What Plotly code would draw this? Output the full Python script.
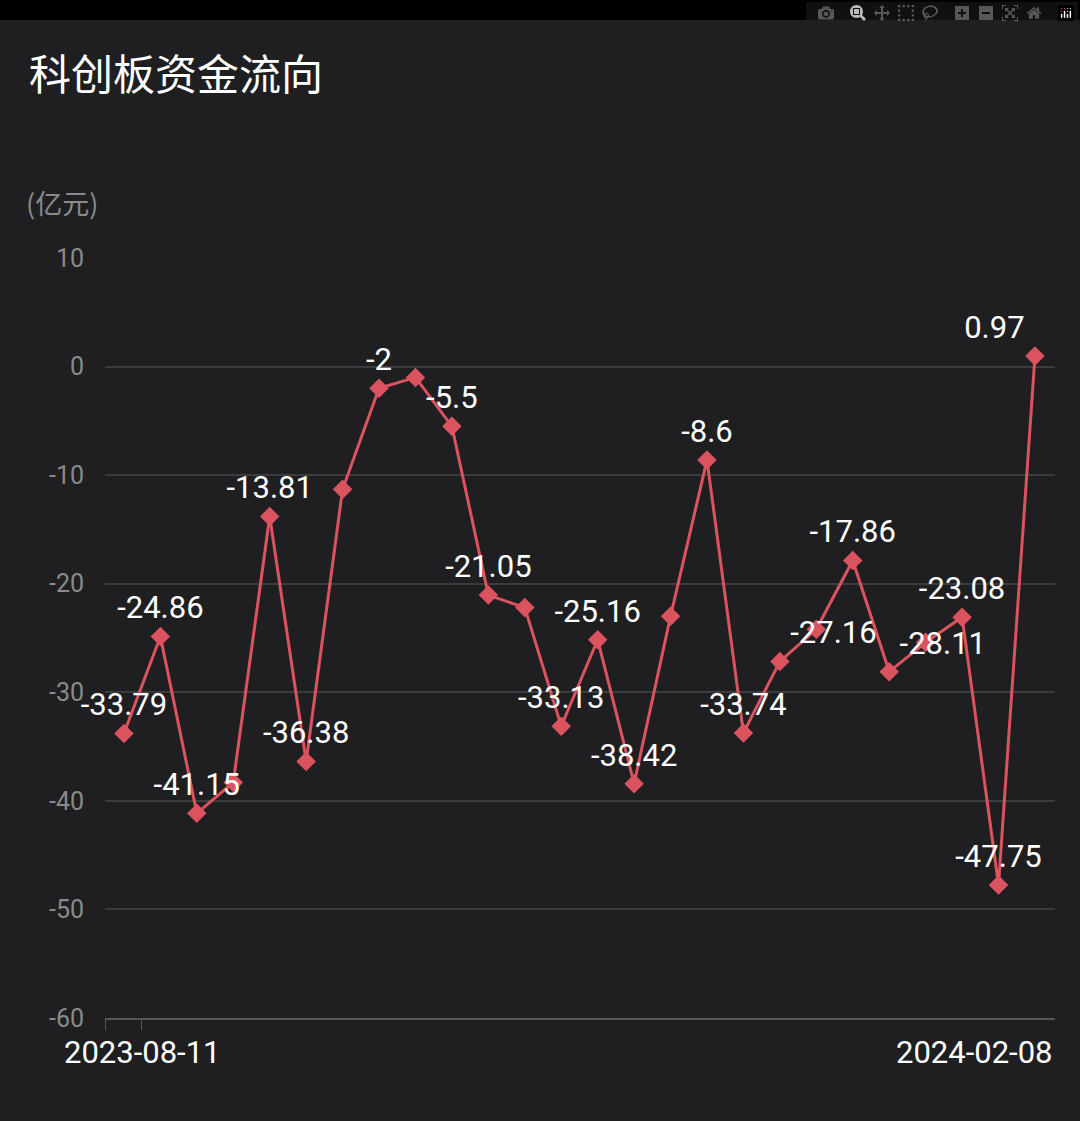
import plotly.graph_objects as go

idx = list(range(26))
values = [-33.79, -24.86, -41.15, -38.3, -13.81, -36.38, -11.3, -2, -1.0, -5.5,
          -21.05, -22.2, -33.13, -25.16, -38.42, -23.0, -8.6, -33.74, -27.16, -24.2,
          -17.86, -28.11, -25.4, -23.08, -47.75, 0.97]
labels = ["-33.79", "-24.86", "-41.15", "", "-13.81", "-36.38", "", "-2", "", "-5.5",
          "-21.05", "", "-33.13", "-25.16", "-38.42", "", "-8.6", "-33.74", "-27.16", "",
          "-17.86", "-28.11", "", "-23.08", "-47.75", "0.97"]
y_ticks = [10, 0, -10, -20, -30, -40, -50, -60]
y_tick_text = ["10", "0", "-10", "-20", "-30", "-40", "-50", "-60"]
date_first = "2023-08-11"
date_last = "2024-02-08"

positions = ["top center"] * 26
for i in (18, 21):
    positions[i] = "top right"
positions[25] = "top left"

grey = "#8a8a8a"
fig = go.Figure()
fig.add_trace(go.Scatter(
    x=idx, y=values, mode="lines+markers+text",
    line=dict(color="#dc5360", width=3),
    marker=dict(symbol="diamond", size=15, color="#dc5360"),
    text=labels, textposition=positions,
    textfont=dict(color="white", size=31, family="Roboto"),
    cliponaxis=False, showlegend=False,
))

fig.update_layout(
    width=1080, height=1121,
    paper_bgcolor="#1f1f21", plot_bgcolor="#1f1f21",
    margin=dict(l=105, r=25, t=258, b=103),
    font=dict(family="Roboto", color=grey),
    xaxis=dict(range=[-0.52, 25.55], showgrid=False, zeroline=False,
               showline=True, linecolor="#555", linewidth=2,
               tickvals=[-0.52, 0.48], ticktext=["", ""], ticks="outside",
               ticklen=10, tickcolor="#555"),
    yaxis=dict(range=[-60, 10], tickvals=y_ticks, ticktext=y_tick_text,
               gridcolor="#3c3c3e", gridwidth=2,
               zeroline=False, tickfont=dict(size=25, color=grey),
               ticklabelstandoff=20),
    shapes=[dict(type="rect", xref="paper", yref="paper", x0=-0.2, x1=1.1,
                 y0=1.313, y1=1.35, fillcolor="black", line_width=0)],
    annotations=[
        dict(text="科创板资金流向", xref="paper", yref="paper", x=-0.082, y=1.245,
             xanchor="left", yanchor="middle", showarrow=False,
             font=dict(size=42, color="white", family="Noto Sans CJK SC")),
        dict(text="(亿元)", xref="paper", yref="paper", x=-0.085, y=1.073,
             xanchor="left", yanchor="middle", showarrow=False,
             font=dict(size=27, color=grey, family="Noto Sans CJK SC")),
        dict(text=date_first, xref="paper", yref="paper", x=-0.045, y=-0.045,
             xanchor="left", yanchor="middle", showarrow=False,
             font=dict(size=31, color="white")),
        dict(text=date_last, xref="paper", yref="paper", x=1.0, y=-0.045,
             xanchor="right", yanchor="middle", showarrow=False,
             font=dict(size=31, color="white")),
    ],
)
fig.write_html("out.html", post_script="document.body.style.margin='0';")
